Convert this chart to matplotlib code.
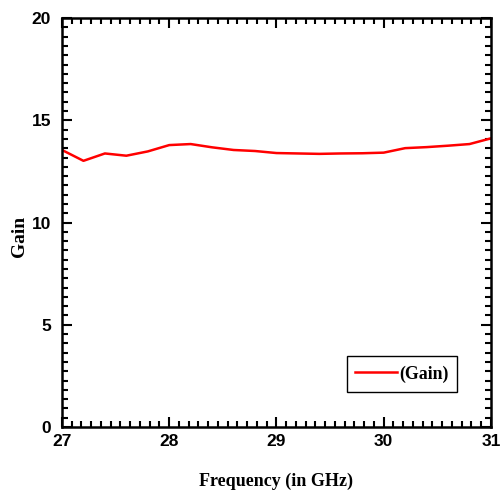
import matplotlib
matplotlib.use("Agg")
import matplotlib.pyplot as plt
from matplotlib.ticker import AutoMinorLocator

freq = [27.0, 27.2, 27.4, 27.6, 27.8, 28.0, 28.2, 28.4, 28.6, 28.8, 29.0,
        29.2, 29.4, 29.6, 29.8, 30.0, 30.2, 30.4, 30.6, 30.8, 31.0]
gain = [13.55, 13.02, 13.38, 13.27, 13.48, 13.79, 13.84, 13.68, 13.55, 13.50, 13.40,
        13.38, 13.36, 13.38, 13.39, 13.42, 13.64, 13.69, 13.76, 13.84, 14.12]
x_ticks = [27, 28, 29, 30, 31]
y_ticks = [0, 5, 10, 15, 20]

fig = plt.figure(figsize=(5.02, 4.90), dpi=100)
ax = fig.add_axes([0.1235, 0.1286, 0.8545, 0.8344])
ax.plot(freq, gain, color="#ff0000", lw=1.8, label="(Gain)")
ax.set_xlim(27, 31)
ax.set_ylim(0, 20)
ax.set_xticks(x_ticks)
ax.set_yticks(y_ticks)
ax.xaxis.set_minor_locator(AutoMinorLocator(11))
ax.yaxis.set_minor_locator(AutoMinorLocator(11))
ax.tick_params(which="both", direction="in", top=True, right=True, width=1.5, color="black")
ax.tick_params(which="major", length=7)
ax.tick_params(which="minor", length=4)
ax.tick_params(axis="y", pad=8)
ax.tick_params(axis="x", pad=5)
for lab in ax.get_xticklabels() + ax.get_yticklabels():
    lab.set_fontfamily("Liberation Sans")
    lab.set_fontweight("bold")
    lab.set_fontsize(12.5)
for s in ax.spines.values():
    s.set_linewidth(1.8)
ax.set_xlabel("Frequency (in GHz)", fontfamily="Liberation Serif", fontweight="bold", fontsize=13)
ax.xaxis.set_label_coords(0.5, -0.132)
ax.xaxis.label.set_va("center")
ax.set_ylabel("Gain", fontfamily="Liberation Serif", fontweight="bold", fontsize=14)
ax.yaxis.set_label_coords(-0.098, 0.467)
ax.yaxis.label.set_va("center")
leg = ax.legend(loc="center", bbox_to_anchor=(0.7925, 0.1296),
                fancybox=False, framealpha=1, edgecolor="black", borderaxespad=0,
                borderpad=0.5, handlelength=2.35, handletextpad=0.1,
                prop={"family": "Liberation Serif", "weight": "bold", "size": 12.8})
leg.get_frame().set_linewidth(1.0)
fig.savefig("out.png", dpi=100)
